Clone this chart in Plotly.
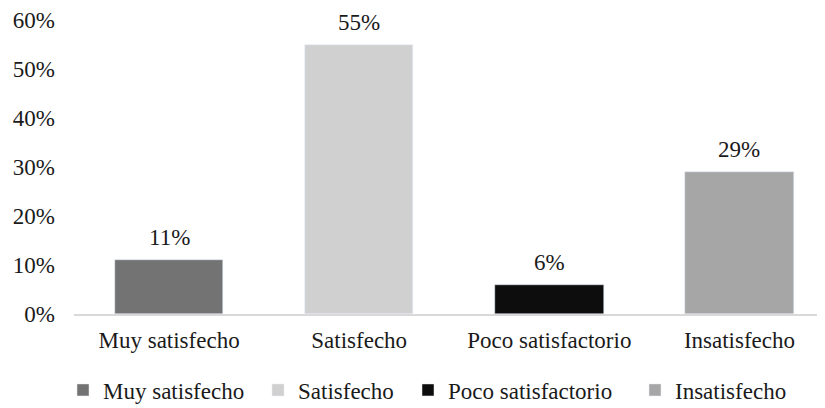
import plotly.graph_objects as go

categories = ["Muy satisfecho", "Satisfecho", "Poco satisfactorio", "Insatisfecho"]
values = [0.11, 0.55, 0.06, 0.29]
labels = ["11%", "55%", "6%", "29%"]
colors = ["#737373", "#d0d0d0", "#0d0d0d", "#a6a6a6"]
legend_left_px = [55, 250, 400, 627]

FONT = "'Liberation Serif', 'Times New Roman', Times, serif"
TXT = "#1a1a1a"
FS = 23
W, H = 817, 400  # page body margin of 8px is accounted for

fig = go.Figure()
for i, (c, v, col) in enumerate(zip(categories, values, colors)):
    lg = "legend" if i == 0 else f"legend{i+1}"
    fig.add_trace(go.Bar(x=[c], y=[v], name=c, marker_color=col, width=0.57,
                         legend=lg, showlegend=True))
    fig.add_annotation(x=c, y=v, text=labels[i], showarrow=False, yanchor="bottom",
                       yshift=9, borderpad=0,
                       font=dict(family=FONT, size=FS, color=TXT))

legends = {}
for i, px in enumerate(legend_left_px):
    key = "legend" if i == 0 else f"legend{i+1}"
    legends[key] = dict(orientation="h", xref="container", yref="container",
                        x=px / W, xanchor="left", y=1 - 382 / H, yanchor="middle",
                        font=dict(family=FONT, size=FS, color=TXT),
                        bgcolor="rgba(0,0,0,0)", itemwidth=30)

fig.update_layout(
    width=W, height=H,
    margin=dict(l=66, r=0, t=12, b=94),
    plot_bgcolor="white", paper_bgcolor="white",
    barmode="overlay",
    bargap=0,
    xaxis=dict(categoryorder="array", categoryarray=categories, range=[-0.5, 3.45],
               showline=True, linecolor="#d9d9d9", linewidth=1.5, showgrid=False,
               ticks="", ticklabelstandoff=5,
               tickfont=dict(family=FONT, size=FS, color=TXT)),
    yaxis=dict(range=[0, 0.6], tickvals=[0, 0.1, 0.2, 0.3, 0.4, 0.5, 0.6],
               ticktext=["0%", "10%", "20%", "30%", "40%", "50%", "60%"],
               showgrid=False, zeroline=False, showline=False, ticks="",
               ticklabelstandoff=18,
               tickfont=dict(family=FONT, size=FS, color=TXT)),
    **legends,
)

fig.write_html("out.html")
